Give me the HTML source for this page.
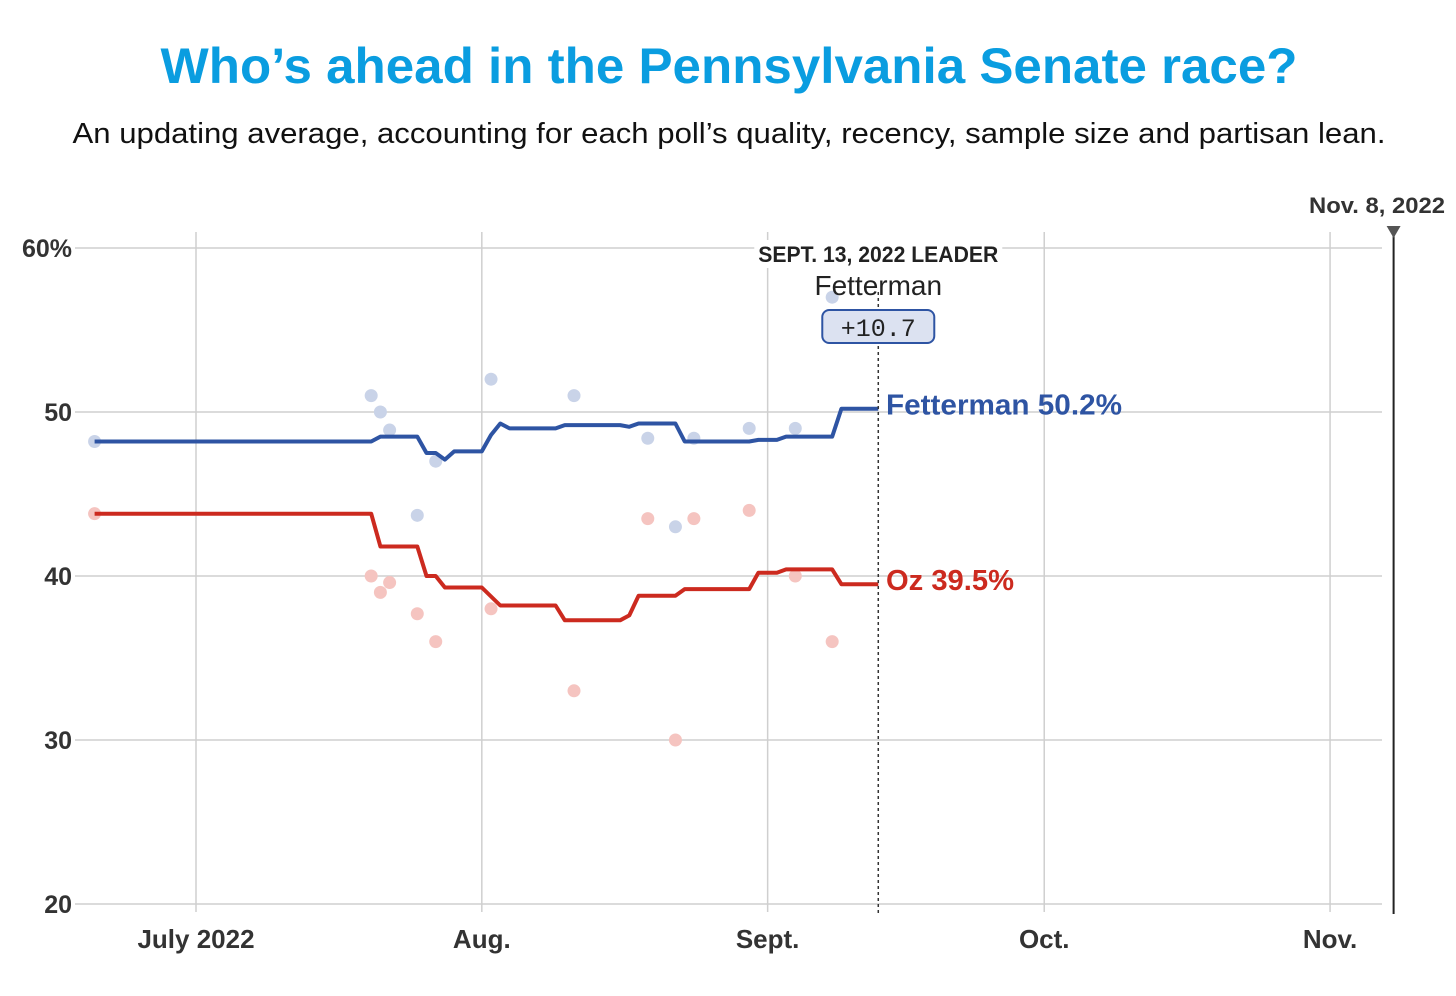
<!DOCTYPE html>
<html><head><meta charset="utf-8">
<style>
body{margin:0;background:#fff;width:1456px;height:996px;overflow:hidden;font-family:"Liberation Sans",sans-serif}
svg{position:absolute;left:0;top:0}
</style></head>
<body>
<svg width="1456" height="996" xmlns="http://www.w3.org/2000/svg" id="chart">
<text x="729" y="83" text-anchor="middle" font-size="50" font-weight="bold" fill="#0a9de0" textLength="1137" lengthAdjust="spacingAndGlyphs">Who’s ahead in the Pennsylvania Senate race?</text>
<text x="729" y="143" text-anchor="middle" font-size="29" fill="#111" textLength="1313" lengthAdjust="spacingAndGlyphs">An updating average, accounting for each poll’s quality, recency, sample size and partisan lean.</text>
<g id="grid"></g>
<g id="dots"></g>
<g id="lines"></g>
<g id="annot"></g>
</svg>
<script>
const yTicks=[60,50,40,30,20];
const yTickLabels=["60%","50","40","30","20"];
const monthDays=[0,31,62,92,123];
const monthLabels=["July 2022","Aug.","Sept.","Oct.","Nov."];
const blueDays=[-11,19,20,24,25,26,27,28,31,32,33,34,39,40,44,46,47,48,52,53,60,61,63,64,69,70,74];
const blueVals=[48.2,48.2,48.5,48.5,47.5,47.5,47.1,47.6,47.6,48.6,49.3,49.0,49.0,49.2,49.2,49.2,49.1,49.3,49.3,48.2,48.2,48.3,48.3,48.5,48.5,50.2,50.2];
const redDays=[-11,19,20,24,25,26,27,31,33,39,40,46,47,48,52,53,60,61,63,64,69,70,74];
const redVals=[43.8,43.8,41.8,41.8,40.0,40.0,39.3,39.3,38.2,38.2,37.3,37.3,37.6,38.8,38.8,39.2,39.2,40.2,40.2,40.4,40.4,39.5,39.5];
const pollDays=[-11,19,20,21,24,26,32,41,49,52,54,60,65,69];
const pollBlue=[48.2,51.0,50.0,48.9,43.7,47.0,52.0,51.0,48.4,43.0,48.4,49.0,49.0,57.0];
const pollRed=[43.8,40.0,39.0,39.6,37.7,36.0,38.0,33.0,43.5,30.0,43.5,44.0,40.0,36.0];
const electionDay=130, leaderDay=74;

const NS="http://www.w3.org/2000/svg";
const X=d=>196+d*9.22;
const Y=v=>412-(v-50)*16.4;
function mk(tag,attrs,parent,text){const e=document.createElementNS(NS,tag);for(const k in attrs)e.setAttribute(k,attrs[k]);if(text!==undefined)e.textContent=text;document.getElementById(parent).appendChild(e);return e;}

yTicks.forEach((t,i)=>{
  const l=mk('line',{x1:75,x2:1382,y1:Y(t),y2:Y(t),stroke:'#cfcfcf','stroke-width':1.5},'grid');
  
  
  const tx=mk('text',{x:72,y:Y(t)+9,'text-anchor':'end','font-size':25,'font-weight':'bold',fill:'#333'},'grid',yTickLabels[i]);
  
  
});
monthDays.forEach((d,i)=>{
  const l=mk('line',{x1:X(d),x2:X(d),y1:232,y2:912,stroke:'#cfcfcf','stroke-width':1.5},'grid');
  
  
  const tx=mk('text',{x:X(d),y:948,'text-anchor':'middle','font-size':26,'font-weight':'bold',fill:'#333'},'grid',monthLabels[i]);
  
  
});
pollDays.forEach((d,i)=>{
  const b=mk('circle',{cx:X(d),cy:Y(pollBlue[i]),r:6.5,fill:'#c9d3e8'},'dots');
  
  
  const r=mk('circle',{cx:X(d),cy:Y(pollRed[i]),r:6.5,fill:'#f5c4c0'},'dots');
  
  
});
function path(days,vals){return days.map((d,i)=>(i?'L':'M')+X(d).toFixed(1)+' '+Y(vals[i]).toFixed(1)).join(' ');}
const bl=mk('path',{d:path(blueDays,blueVals),fill:'none',stroke:'#2e54a3','stroke-width':4,'stroke-linejoin':'round'},'lines');


const rl=mk('path',{d:path(redDays,redVals),fill:'none',stroke:'#cc2a1f','stroke-width':4,'stroke-linejoin':'round'},'lines');



const lx=X(leaderDay);
const dl=mk('line',{x1:lx,x2:lx,y1:292,y2:915,stroke:'#333','stroke-width':1.5,'stroke-dasharray':'3,3'},'annot');


const lb=mk('rect',{x:lx-124,y:240,width:248,height:28,fill:'#fff'},'annot');


const lt=mk('text',{x:lx,y:262,'text-anchor':'middle','font-size':22,'font-weight':'bold',fill:'#222',textLength:240,lengthAdjust:'spacingAndGlyphs'},'annot','SEPT. 13, 2022 LEADER');


const ln=mk('text',{x:lx,y:295,'text-anchor':'middle','font-size':28,fill:'#222'},'annot','Fetterman');


const mb=mk('rect',{x:lx-56,y:310,width:112,height:33,rx:7,fill:'#dce2f1',stroke:'#2e54a3','stroke-width':2},'annot');


const mt=mk('text',{x:lx,y:336,'text-anchor':'middle','font-size':25,'font-family':'Liberation Mono, monospace',fill:'#222'},'annot','+'+(blueVals[blueVals.length-1]-redVals[redVals.length-1]).toFixed(1));


const fl=mk('text',{x:886,y:Y(blueVals[blueVals.length-1])+6,'font-size':29,'font-weight':'bold',fill:'#2e54a3',textLength:236,lengthAdjust:'spacingAndGlyphs'},'annot','Fetterman '+blueVals[blueVals.length-1].toFixed(1)+'%');


const ol=mk('text',{x:886,y:Y(redVals[redVals.length-1])+6,'font-size':29,'font-weight':'bold',fill:'#cc2a1f',textLength:128,lengthAdjust:'spacingAndGlyphs'},'annot','Oz '+redVals[redVals.length-1].toFixed(1)+'%');


const ex=X(electionDay)-1;
const el=mk('line',{x1:ex,x2:ex,y1:234,y2:914,stroke:'#222','stroke-width':2},'annot');


const et=mk('path',{d:`M${ex-7} 226 L${ex+7} 226 L${ex} 238 Z`,fill:'#555'},'annot');


const elb=mk('text',{x:1445,y:213,'text-anchor':'end','font-size':22,'font-weight':'bold',fill:'#333',textLength:136,lengthAdjust:'spacingAndGlyphs'},'annot','Nov. 8, 2022');


</script>
</body></html>
